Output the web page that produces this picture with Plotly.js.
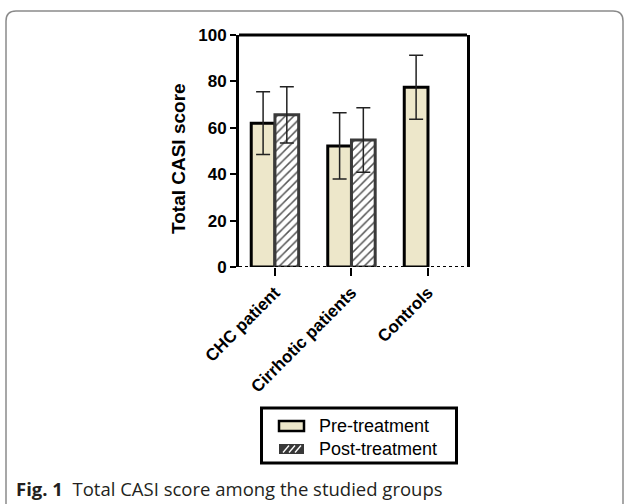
<!DOCTYPE html>
<html>
<head>
<meta charset="utf-8">
<script src="https://cdn.plot.ly/plotly-3.0.1.min.js"></script>
<style>
html,body{margin:0;padding:0;background:#fff;}
#chart{width:626px;height:504px;}
</style>
</head>
<body>
<div id="chart"></div>
<script>
const categories = ['CHC patient', 'Cirrhotic patients', 'Controls'];
const preMean = [62, 52.2, 77.5];
const preSD = [13.5, 14.3, 13.8];
const postMean = [65.6, 54.7, null];
const postSD = [12.1, 13.9, null];
const seriesNames = ['Pre-treatment', 'Post-treatment'];
const yTicks = [0, 20, 40, 60, 80, 100];
const yTitle = 'Total CASI score';
const captionBold = 'Fig. 1';
const captionText = 'Total CASI score among the studied groups';

// plot area in pixels
const L = 239, R = 467, T = 35, B = 267, W = 626, H = 504;
const px = x => (x - L) / (R - L);
const py = y => (B - y) / (B - T);

const preFill = '#ede7ca';
const pre = {
  type: 'bar', name: seriesNames[0], x: categories, y: preMean,
  marker: {color: preFill, line: {color: '#000', width: 3}},
  error_y: {type: 'data', array: preSD, visible: true, color: '#222', thickness: 1.5, width: 7}
};
const post = {
  type: 'bar', name: seriesNames[1], x: categories, y: postMean,
  marker: {color: '#ffffff', line: {color: '#3a3a3a', width: 3},
    pattern: {shape: '/', fgcolor: '#555', bgcolor: '#ffffff', size: 6, solidity: 0.25}},
  error_y: {type: 'data', array: postSD, visible: true, color: '#222', thickness: 1.5, width: 7}
};

// rounded frame path in paper coords
const fx0 = 6, fy0 = 11, fx1 = 623, fy1 = 512, rr = 10;
const framePath =
  'M ' + px(fx0) + ' ' + py(fy1) +
  ' L ' + px(fx0) + ' ' + py(fy0 + rr) +
  ' Q ' + px(fx0) + ' ' + py(fy0) + ' ' + px(fx0 + rr) + ' ' + py(fy0) +
  ' L ' + px(fx1 - rr) + ' ' + py(fy0) +
  ' Q ' + px(fx1) + ' ' + py(fy0) + ' ' + px(fx1) + ' ' + py(fy0 + rr) +
  ' L ' + px(fx1) + ' ' + py(fy1);

const axFont = {family: 'Liberation Sans, Arial, sans-serif', size: 17, weight: 'bold', color: '#000'};

function rectShape(x0, y0, x1, y1, fill, lineColor, lineWidth) {
  return {type: 'rect', xref: 'paper', yref: 'paper', layer: 'above',
    x0: px(x0), x1: px(x1), y0: py(y1), y1: py(y0),
    fillcolor: fill, line: {color: lineColor, width: lineWidth}};
}
function lineShape(x0, y0, x1, y1, color, width) {
  return {type: 'line', xref: 'paper', yref: 'paper', layer: 'above',
    x0: px(x0), x1: px(x1), y0: py(y0), y1: py(y1), line: {color: color, width: width}};
}

// custom legend
const legendShapes = [
  rectShape(261.5, 408, 456.5, 463, '#ffffff', '#000', 3),
  rectShape(279, 421, 304, 431, preFill, '#000', 2.5),
  rectShape(279, 444, 304, 454, '#383838', 'rgba(0,0,0,0)', 0)
];
[283, 289, 295].forEach(s => legendShapes.push(lineShape(s, 452.5, s + 6, 445.5, '#ffffff', 1.3)));

const layout = {
  width: W, height: H,
  margin: {l: L, r: W - R, t: T, b: H - B, pad: 0},
  paper_bgcolor: '#fff', plot_bgcolor: '#fff',
  showlegend: false,
  barmode: 'group', bargap: 0.38, bargroupgap: 0,
  font: {family: 'Liberation Sans, Arial, sans-serif', color: '#000'},
  xaxis: {
    type: 'category', range: [-0.47, 2.51],
    showline: false, showgrid: false, zeroline: false,
    ticks: 'outside', ticklen: 8, tickwidth: 2, tickcolor: '#000',
    tickangle: -45,
    tickfont: axFont
  },
  yaxis: {
    range: [0, 100], tickvals: yTicks, ticktext: yTicks.map(String),
    showline: true, linewidth: 3, linecolor: '#000', mirror: true,
    showgrid: false, zeroline: false,
    ticks: 'outside', ticklen: 6, tickwidth: 2, tickcolor: '#000',
    tickfont: axFont
  },
  shapes: [
    {type: 'line', xref: 'paper', yref: 'paper', x0: 0, x1: 1, y0: 1, y1: 1, line: {color: '#000', width: 3}},
    {type: 'line', xref: 'paper', yref: 'y', x0: 0, x1: 1, y0: 0, y1: 0, line: {color: '#000', width: 2, dash: '3px,3px'}},
    {type: 'path', xref: 'paper', yref: 'paper', path: framePath, line: {color: '#8a8a8a', width: 1.5}}
  ].concat(legendShapes),
  annotations: [
    {xref: 'paper', yref: 'paper', x: px(178), y: py(159), xanchor: 'center', yanchor: 'middle',
     showarrow: false, textangle: -90, text: yTitle,
     font: {family: 'Liberation Sans, Arial, sans-serif', size: 19, weight: 'bold', color: '#000'}},
    {xref: 'paper', yref: 'paper', x: px(14), y: py(488), xanchor: 'left', yanchor: 'middle',
     showarrow: false, align: 'left',
     text: '<b>' + captionBold + '</b>  ' + captionText,
     font: {family: 'Open Sans, Noto Sans, sans-serif', size: 18.5, color: '#231f20'}},
    {xref: 'paper', yref: 'paper', x: px(317), y: py(426), xanchor: 'left', yanchor: 'middle',
     showarrow: false, text: seriesNames[0],
     font: {family: 'Liberation Sans, Arial, sans-serif', size: 18, color: '#000'}},
    {xref: 'paper', yref: 'paper', x: px(317), y: py(449), xanchor: 'left', yanchor: 'middle',
     showarrow: false, text: seriesNames[1],
     font: {family: 'Liberation Sans, Arial, sans-serif', size: 18, color: '#000'}}
  ]
};

Plotly.newPlot('chart', [pre, post], layout, {displayModeBar: false, staticPlot: true});
</script>
</body>
</html>
